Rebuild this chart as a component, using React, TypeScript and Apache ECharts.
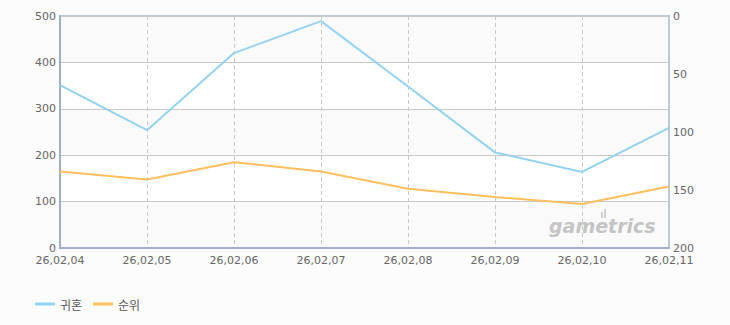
import React, { useEffect, useRef } from "react";
import * as echarts from "echarts";

const categories = ["26,02,04", "26,02,05", "26,02,06", "26,02,07", "26,02,08", "26,02,09", "26,02,10", "26,02,11"];
const guihonValues = [351, 254, 420, 489, 348, 206, 164, 259];
const rankValues = [134, 141, 126, 134, 149, 156, 162, 147];
const leftTicks = [0, 100, 200, 300, 400, 500];
const rightTicks = [0, 50, 100, 150, 200];

export default function App() {
  const ref = useRef<HTMLDivElement>(null);
  useEffect(() => {
    if (!ref.current) return;
    const chart = echarts.init(ref.current, null, { renderer: "svg" });
    const font = "DejaVu Sans";
    chart.setOption({
      animation: false,
      backgroundColor: "#fcfcfc",
      textStyle: { fontFamily: font },
      grid: {
        left: 60,
        right: 61,
        top: 16,
        bottom: 77,
        show: true,
        backgroundColor: "#fbfbfb",
        borderColor: "#b8cadc",
        borderWidth: 2,
      },
      legend: {
        left: 30,
        top: 293,
        itemWidth: 20,
        itemHeight: 3,
        itemGap: 11,
        icon: "rect",
        textStyle: { color: "#555", fontSize: 12, fontFamily: "Noto Sans CJK KR", padding: [0, 0, 0, 0] },
        data: ["귀혼", "순위"],
      },
      xAxis: {
        type: "category",
        data: categories,
        boundaryGap: false,
        axisLine: { lineStyle: { color: "#9fb0c6", width: 2 } },
        axisTick: { show: false },
        axisLabel: { color: "#666", fontSize: 11, margin: 7, interval: 0 },
        splitLine: { show: true, lineStyle: { color: "#c8c8c8", type: [4, 3], width: 1 } },
      },
      yAxis: [
        {
          type: "value",
          min: leftTicks[0],
          max: leftTicks[leftTicks.length - 1],
          interval: 100,
          axisLine: { show: true, lineStyle: { color: "#9fb0c6", width: 2 } },
          axisTick: { show: false },
          axisLabel: { color: "#666", fontSize: 11, margin: 4 },
          splitLine: { lineStyle: { color: "#c8c8c8", width: 1 } },
          splitArea: { show: true, areaStyle: { color: ["#fafafa", "#ffffff"] } },
        },
        {
          type: "value",
          inverse: true,
          min: rightTicks[0],
          max: rightTicks[rightTicks.length - 1],
          interval: 50,
          position: "right",
          axisLine: { show: true, lineStyle: { color: "#b8cadc", width: 2 } },
          axisTick: { show: false },
          axisLabel: { color: "#666", fontSize: 11, margin: 4 },
          splitLine: { show: false },
        },
      ],
      graphic: [
        {
          type: "text",
          left: 549,
          top: 216,
          z: 1,
          style: {
            text: "gametrics",
            fill: "#c4c4c4",
            font: "italic bold 19px 'DejaVu Sans'",
          },
        },
        { type: "rect", left: 601, top: 212, shape: { width: 2, height: 6 }, style: { fill: "#d0d0d0" }, z: 1 },
        { type: "rect", left: 604, top: 209, shape: { width: 2, height: 9 }, style: { fill: "#d0d0d0" }, z: 1 },
      ],
      series: [
        {
          name: "귀혼",
          type: "line",
          data: guihonValues,
          yAxisIndex: 0,
          symbol: "none",
          color: "#94d2f2",
          lineStyle: { width: 2, color: "#94d2f2" },
          z: 3,
        },
        {
          name: "순위",
          type: "line",
          data: rankValues,
          yAxisIndex: 1,
          symbol: "none",
          color: "#ffbf5e",
          lineStyle: { width: 2, color: "#ffbf5e" },
          z: 3,
        },
      ],
    });
    return () => chart.dispose();
  }, []);
  return <div ref={ref} style={{ width: 730, height: 325, position: "absolute", left: 0, top: 0 }} />;
}
